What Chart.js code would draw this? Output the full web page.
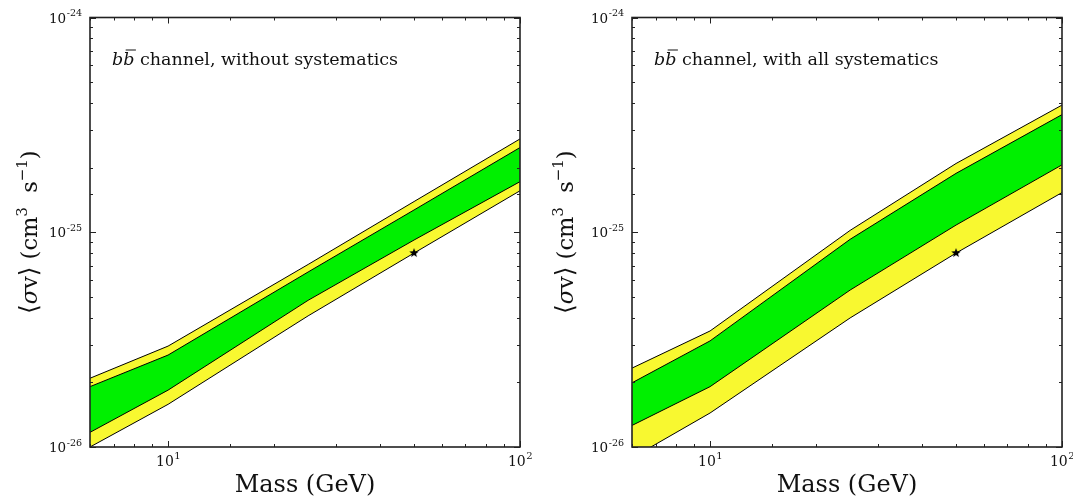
<!DOCTYPE html>
<html>
<head>
<meta charset="utf-8">
<script src="https://cdn.jsdelivr.net/npm/chart.js@4.4.1/dist/chart.umd.min.js"></script>
<style>
  html, body { margin: 0; padding: 0; background: #fff; }
  #wrap { width: 1073px; height: 499px; display: flex; }
  canvas { display: block; }
</style>
</head>
<body>
<div id="wrap">
  <canvas id="left" width="536" height="499"></canvas>
  <canvas id="right" width="537" height="499"></canvas>
</div>
<script>
// dark matter mass (GeV)
const masses = [6, 10, 25, 50, 100];

// b bbar, without systematics
const noSysYellowHi = [2.09e-26, 2.95e-26, 7.08e-26, 1.39e-25, 2.72e-25];
const noSysGreenHi  = [1.91e-26, 2.68e-26, 6.53e-26, 1.27e-25, 2.48e-25];
const noSysGreenLo  = [1.17e-26, 1.84e-26, 4.82e-26, 9.2e-26, 1.72e-25];
const noSysYellowLo = [1.0e-26, 1.58e-26, 4.08e-26, 8.0e-26, 1.56e-25];

// b bbar, with all systematics
const allSysYellowHi = [2.33e-26, 3.47e-26, 1.02e-25, 2.09e-25, 3.91e-25];
const allSysGreenHi  = [1.99e-26, 3.12e-26, 9.27e-26, 1.88e-25, 3.53e-25];
const allSysGreenLo  = [1.26e-26, 1.91e-26, 5.38e-26, 1.08e-25, 2.06e-25];
const allSysYellowLo = [8.9e-27, 1.44e-26, 3.99e-26, 8.0e-26, 1.53e-25];

// thermal relic marker
const starMass = [50];
const starValue = [8e-26];

// tick labels, written as 10^exp
const xTickValues = [10, 100];
const xTickExps = ["1", "2"];
const yTickValues = [1e-26, 1e-25, 1e-24];
const yTickExps = ["-26", "-25", "-24"];

const serif = "'DejaVu Serif', 'Liberation Serif', serif";
const ink = "#111";

const isDecade = (v) => Math.abs(Math.log10(v) - Math.round(Math.log10(v))) < 1e-6;
const pickLabel = (vals, labels, v) => {
  const i = vals.findIndex((t) => Math.abs(Math.log10(t) - Math.log10(v)) < 1e-6);
  return i >= 0 ? labels[i] : "";
};
const pairs = (xs, ys) => xs.map((x, i) => ({ x: x, y: ys[i] }));
// log scale can hand back the min twice
const dedupe = (s) => {
  s.ticks = s.ticks.filter((t, i, arr) =>
    i === 0 || Math.abs(Math.log10(t.value) - Math.log10(arr[i - 1].value)) > 1e-9);
};

function starImage(r) {
  const c = document.createElement("canvas");
  c.width = c.height = 2 * r + 2;
  const g = c.getContext("2d");
  g.beginPath();
  for (let i = 0; i < 10; i++) {
    const rad = i % 2 ? r * 0.42 : r;
    const ang = -Math.PI / 2 + (i * Math.PI) / 5;
    g.lineTo(r + 1 + rad * Math.cos(ang), r + 1 + rad * Math.sin(ang));
  }
  g.closePath();
  g.fillStyle = "#000";
  g.fill();
  return c;
}

// inward ticks on all four sides, the box, and 10^n labels
const frameTicks = {
  id: "frameTicks",
  afterDatasetsDraw(chart) {
    const { ctx, chartArea: a, scales } = chart;
    const xs = scales.x, ys = scales.y;
    ctx.save();
    ctx.strokeStyle = "#222";
    ctx.lineWidth = 1;
    ctx.beginPath();
    xs.ticks.forEach((t) => {
      const px = Math.round(xs.getPixelForValue(t.value)) + 0.5;
      const len = isDecade(t.value) ? 6 : 3;
      ctx.moveTo(px, a.bottom); ctx.lineTo(px, a.bottom - len);
      ctx.moveTo(px, a.top); ctx.lineTo(px, a.top + len);
    });
    ys.ticks.forEach((t) => {
      const py = Math.round(ys.getPixelForValue(t.value)) + 0.5;
      const len = isDecade(t.value) ? 6 : 3;
      ctx.moveTo(a.left, py); ctx.lineTo(a.left + len, py);
      ctx.moveTo(a.right, py); ctx.lineTo(a.right - len, py);
    });
    ctx.stroke();
    ctx.lineWidth = 1.6;
    ctx.strokeRect(a.left, a.top, a.right - a.left, a.bottom - a.top);

    ctx.fillStyle = ink;
    ctx.textBaseline = "alphabetic";
    ctx.textAlign = "left";
    xs.ticks.forEach((t) => {
      const e = pickLabel(xTickValues, xTickExps, t.value);
      if (!e) return;
      const px = xs.getPixelForValue(t.value);
      ctx.font = "14px " + serif;
      const w1 = ctx.measureText("10").width;
      ctx.font = "10px " + serif;
      const w2 = ctx.measureText(e).width;
      const x0 = px - (w1 + w2) / 2;
      ctx.font = "14px " + serif;
      ctx.fillText("10", x0, a.bottom + 19);
      ctx.font = "10px " + serif;
      ctx.fillText(e, x0 + w1 + 0.5, a.bottom + 12);
    });
    ys.ticks.forEach((t) => {
      const e = pickLabel(yTickValues, yTickExps, t.value);
      if (!e) return;
      const py = ys.getPixelForValue(t.value);
      ctx.font = "9.5px " + serif;
      const w2 = ctx.measureText(e).width;
      ctx.font = "13.5px " + serif;
      const w1 = ctx.measureText("10").width;
      const xr = a.left - 8;
      ctx.fillText("10", xr - w2 - w1 - 0.5, py + 5);
      ctx.font = "9.5px " + serif;
      ctx.fillText(e, xr - w2, py - 1.5);
    });
    ctx.restore();
  }
};

// "b b-bar channel, ..." note and the rotated y title
const notes = {
  id: "notes",
  afterDraw(chart, args, opts) {
    const { ctx, chartArea: a } = chart;
    const x0 = a.left + 22, y0 = a.top + 47;
    ctx.save();
    ctx.fillStyle = ink;
    ctx.textBaseline = "alphabetic";
    ctx.font = "italic 17.5px " + serif;
    const wb = ctx.measureText("b").width;
    ctx.fillText("b", x0, y0);
    ctx.fillText("b", x0 + wb, y0);
    ctx.strokeStyle = ink;
    ctx.lineWidth = 1;
    ctx.beginPath();
    ctx.moveTo(x0 + wb + 2.5, y0 - 14.5);
    ctx.lineTo(x0 + 2 * wb + 1.5, y0 - 14.5);
    ctx.stroke();
    ctx.font = "17.5px " + serif;
    ctx.fillText(" " + opts.text, x0 + 2 * wb, y0);

    // y title: <sigma v> (cm^3 s^-1)
    const big = "22.5px " + serif, sup = "15px " + serif;
    const parts = [
      ["⟨", "25px " + serif, 0], ["σ", "italic 22.5px " + serif, 0], ["v", big, 0],
      ["⟩", "25px " + serif, 0], [" (cm", big, 0], ["3", sup, -10],
      ["  s", big, 0], ["−1", sup, -10], [")", big, 0]
    ];
    let total = 0;
    parts.forEach((p) => { ctx.font = p[1]; total += ctx.measureText(p[0]).width; });
    ctx.translate(37, (a.top + a.bottom) / 2);
    ctx.rotate(-Math.PI / 2);
    let x = -total / 2;
    parts.forEach((p) => {
      ctx.font = p[1];
      ctx.fillText(p[0], x, p[2]);
      x += ctx.measureText(p[0]).width;
    });
    ctx.restore();
  }
};

function makePanel(id, yHi, gHi, gLo, yLo, text, yWidth, padRight) {
  const canvas = document.getElementById(id);
  const line = { borderColor: "#000", borderWidth: 1, pointRadius: 0, tension: 0 };
  return new Chart(canvas.getContext("2d"), {
    type: "line",
    data: {
      datasets: [
        { ...line, data: pairs(masses, gHi), backgroundColor: "#00f000", fill: 1 },
        { ...line, data: pairs(masses, gLo), fill: false },
        { ...line, data: pairs(masses, yHi), backgroundColor: "#f8f830", fill: 3 },
        { ...line, data: pairs(masses, yLo), fill: false },
        {
          type: "scatter", data: pairs(starMass, starValue), order: -1,
          pointStyle: starImage(5), pointRadius: 5, showLine: false
        }
      ]
    },
    options: {
      responsive: false,
      animation: false,
      events: [],
      layout: { padding: { top: 17.5, right: padRight, left: 0, bottom: 0 } },
      plugins: {
        legend: { display: false },
        tooltip: { enabled: false },
        filler: { drawTime: "beforeDatasetsDraw", propagate: false },
        notes: { text: text }
      },
      scales: {
        x: {
          type: "logarithmic",
          min: 6,
          max: 100,
          afterBuildTicks: dedupe,
          afterFit: (s) => { s.height = 52; s.paddingLeft = 0; s.paddingRight = 0; },
          grid: { display: false, drawTicks: false },
          border: { display: false },
          ticks: { display: false, autoSkip: false },
          title: {
            display: true, text: "Mass (GeV)", color: ink,
            font: { family: serif, size: 24 }, padding: { top: 0, bottom: -1 }
          }
        },
        y: {
          type: "logarithmic",
          min: 1e-26,
          max: 1e-24,
          afterBuildTicks: dedupe,
          afterFit: (s) => { s.width = yWidth; s.paddingTop = 0; s.paddingBottom = 0; },
          grid: { display: false, drawTicks: false },
          border: { display: false },
          ticks: { display: false, autoSkip: false },
          title: { display: false }
        }
      }
    },
    plugins: [frameTicks, notes]
  });
}

makePanel("left", noSysYellowHi, noSysGreenHi, noSysGreenLo, noSysYellowLo,
  "channel, without systematics", 90, 16);
makePanel("right", allSysYellowHi, allSysGreenHi, allSysGreenLo, allSysYellowLo,
  "channel, with all systematics", 96, 11);
</script>
</body>
</html>
